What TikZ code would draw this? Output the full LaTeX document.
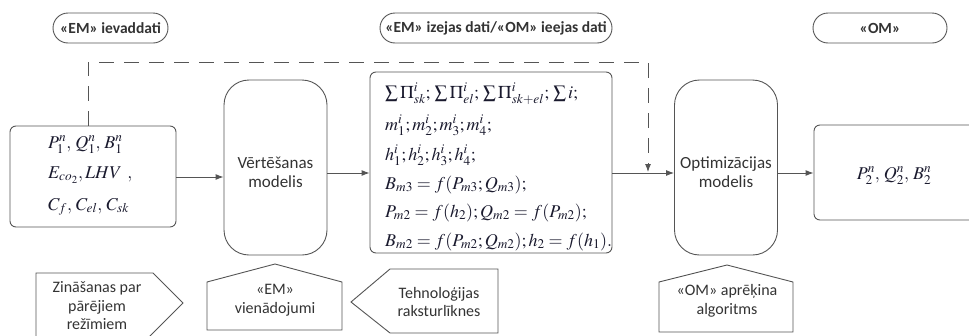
\documentclass[tikz,border=0pt]{standalone}
\usepackage{mathptmx}
\usepackage{fontspec}
\setsansfont{Carlito}
\usetikzlibrary{arrows.meta}
\definecolor{lc}{HTML}{555555}
\definecolor{tc}{HTML}{333333}
\definecolor{mc}{HTML}{1A1A2E}
\begin{document}
\begin{tikzpicture}[x=1pt,y=-1pt,
  ln/.style={draw=lc, line width=0.9pt},
  rbox/.style={ln, rounded corners=6pt, inner sep=0pt},
  modelbox/.style={ln, rounded corners=25pt, inner sep=0pt, minimum width=103pt, minimum height=175pt},
  pillbox/.style={ln, rounded corners=15pt, minimum height=30pt, inner sep=0pt, font=\sffamily\bfseries\fontsize{15.5}{18}\selectfont, text=tc},
  arr/.style={ln, -{Latex[length=8pt,width=6pt]}},
  dsh/.style={ln, dash pattern=on 15pt off 10pt},
  lbl/.style={align=center, font=\sffamily\fontsize{16}{18.5}\selectfont, text=tc, inner sep=0pt},
  mlbl/.style={align=center, font=\sffamily\fontsize{17}{19}\selectfont, text=tc, inner sep=0pt},
  mth/.style={font=\fontsize{18}{20}\selectfont, text=mc, inner sep=0pt, anchor=base west}
]
\useasboundingbox (0,0) rectangle (969,335);
\clip (0,0) rectangle (969,335);

% top pills
\node[pillbox, minimum width=115pt] (p1) at (110.5,28) {«EM» ievaddati};
\node[pillbox, minimum width=232pt] (p2) at (496,28) {«EM» izejas dati/«OM» ieejas dati};
\node[pillbox, minimum width=134pt] (p3) at (880,28) {«OM»};

% input box
\node[rbox, minimum width=166pt, minimum height=101pt] (inp) at (93,176.5) {};
\node[mth] (i1) at (48,148) {$P_1^{n},\,Q_1^{n},\,B_1^{n}$};
\node[mth] (i2) at (48,178) {$E_{co_2}, LHV\ ,$};
\node[mth] (i3) at (48,210) {$C_f,\,C_{el},\,C_{sk}$};

% evaluation model
\node[modelbox] (ev) at (275.5,167.5) {};
\node[mlbl] (evt) at (275.5,172) {Vērtēšanas\\modelis};

% equations box
\node[rbox, minimum width=242pt, minimum height=181pt] (eq) at (491,162.5) {};
\node[mth] (e1) at (385,98) {$\sum\Pi^i_{sk};\,\sum\Pi^i_{el};\,\sum\Pi^i_{sk+el};\,\sum i;$};
\node[mth] (e2) at (385,130) {$m_1^i; m_2^i; m_3^i; m_4^i;$};
\node[mth] (e3) at (385,160) {$h_1^i; h_2^i; h_3^i; h_4^i;$};
\node[mth] (e4) at (385,189) {$B_{m3}=f(P_{m3};Q_{m3});$};
\node[mth] (e5) at (385,217) {$P_{m2}=f(h_2);Q_{m2}=f(P_{m2});$};
\node[mth] (e6) at (385,246) {$B_{m2}=f(P_{m2};Q_{m2});h_2=f(h_1).$};

% optimisation model
\node[modelbox] (om) at (726,167.5) {};
\node[mlbl] (omt) at (726,172) {Optimizācijas\\modelis};

% output box
\node[rbox, minimum width=161pt, minimum height=95pt] (out) at (894.5,172.5) {};
\node[mth, anchor=center] (o1) at (894,176) {$P_2^{n},\,Q_2^{n},\,B_2^{n}$};

% connectors
\coordinate (r1) at (0,177);
\coordinate (r2) at (0,173);
\draw[arr] (inp.east |- r1) -- (ev.west |- r1);
\draw[arr] (ev.east |- r2) -- (eq.west |- r2);
\draw[arr] (eq.east |- r2) -- (om.west |- r2);
\draw[arr] (om.east |- r2) -- (out.west |- r2);
\coordinate (d1) at (88,62);
\coordinate (d2) at (648,62);
\coordinate (d3) at (648,172);
\draw[dsh, -{Latex[length=8pt,width=6pt]}] (inp.north -| d1) -- (d1) -- (d2) -- (d3);

% bottom shapes
\draw[ln] (36,345) -- (36,273) -- (153,273) -- (183,303) -- (141,345);
\node[lbl] (k1) at (97,306) {Zināšanas par\\pārējiem\\režīmiem};
\draw[ln] (207,330) -- (207,282) -- (275,264) -- (342,282) -- (342,330) -- cycle;
\node[lbl] (k2) at (275,300) {«EM»\\vienādojumi};
\draw[ln] (351,302) -- (390,269) -- (498,269) -- (498,333) -- (390,333) -- cycle;
\node[lbl] (k3) at (439,302) {Tehnoloģijas\\raksturlīknes};
\draw[ln] (659,332) -- (659,282) -- (727,265) -- (793,282) -- (793,332) -- cycle;
\node[lbl] (k4) at (727,301) {«OM» aprēķina\\algoritms};
\end{tikzpicture}
\end{document}
